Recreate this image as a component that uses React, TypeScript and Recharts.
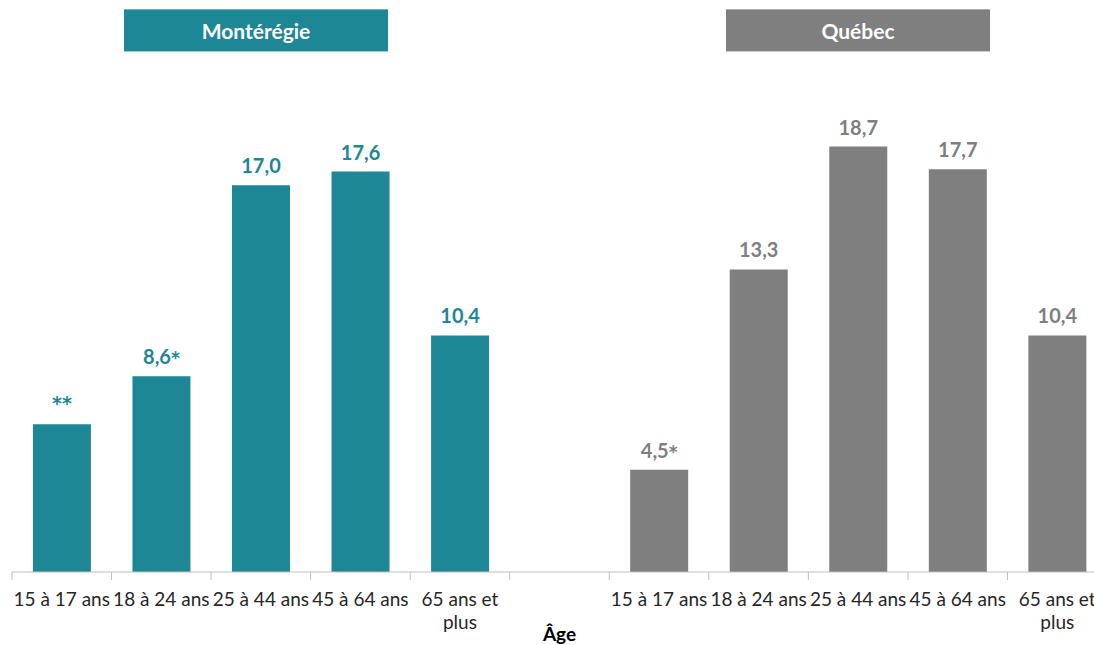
import { BarChart, Bar, XAxis, YAxis, LabelList } from "recharts"

const ageGroups = ["15 à 17 ans", "18 à 24 ans", "25 à 44 ans", "45 à 64 ans", "65 ans et\nplus"]

const monteregieValues = [6.5, 8.6, 17.0, 17.6, 10.4]
const monteregieLabels = ["**", "8,6*", "17,0", "17,6", "10,4"]

const quebecValues = [4.5, 13.3, 18.7, 17.7, 10.4]
const quebecLabels = ["4,5*", "13,3", "18,7", "17,7", "10,4"]

const TEAL = "#1d8796"
const GREY = "#7f7f7f"
const FONT = "Lato, 'Open Sans', sans-serif"

type Row = {
  key: string
  label: string
  monteregie: number | null
  monteregieLabel: string
  quebec: number | null
  quebecLabel: string
}

const chartData: Row[] = [
  ...ageGroups.map((label, i) => ({
    key: "m" + i,
    label,
    monteregie: monteregieValues[i],
    monteregieLabel: monteregieLabels[i],
    quebec: null,
    quebecLabel: ""
  })),
  { key: "gap", label: "", monteregie: null, monteregieLabel: "", quebec: null, quebecLabel: "" },
  ...ageGroups.map((label, i) => ({
    key: "q" + i,
    label,
    monteregie: null,
    monteregieLabel: "",
    quebec: quebecValues[i],
    quebecLabel: quebecLabels[i]
  }))
]

const TICK_SIZE = 8

function AgeTick(props: any) {
  const { x, y, payload, index, visibleTicksCount } = props
  const half = payload.offset ?? 0
  const axisY = y - TICK_SIZE
  const row = chartData[index]
  const lines = row ? row.label.split("\n") : []
  const isLast = index === visibleTicksCount - 1

  return (
    <g>
      <line x1={x - half} x2={x - half} y1={axisY} y2={axisY + TICK_SIZE} stroke="#bfbfbf" />
      {isLast && (
        <line x1={x + half} x2={x + half} y1={axisY} y2={axisY + TICK_SIZE} stroke="#bfbfbf" />
      )}
      <text
        x={x}
        y={axisY + 34}
        textAnchor="middle"
        fill="#262626"
        fontSize={19}
        fontFamily={FONT}
      >
        {lines.map((line, i) => (
          <tspan key={i} x={x} dy={i === 0 ? 0 : 23}>
            {line}
          </tspan>
        ))}
      </text>
    </g>
  )
}

// value label: digits in Lato, asterisks in a font with a bigger star
function makeValueLabel(color: string) {
  return (props: any) => {
    const { x, y, width, value } = props
    if (!value) return null
    const text = String(value)
    const num = text.replace(/\*/g, "")
    const stars = text.slice(num.length)
    return (
      <text
        x={x + width / 2}
        y={y - 12}
        textAnchor="middle"
        fill={color}
        fontSize={20}
        fontWeight={700}
        fontFamily={FONT}
      >
        {num && <tspan>{num}</tspan>}
        {stars && (
          <tspan fontFamily="'DejaVu Sans', sans-serif" fontSize={num ? 17 : 19} dy={num ? 0 : -2}>
            {stars}
          </tspan>
        )}
      </text>
    )
  }
}

function Header({ text, color, left }: { text: string; color: string; left: number }) {
  return (
    <div
      style={{
        position: "absolute",
        left,
        top: 9,
        width: 264,
        height: 43,
        background: color,
        color: "#fff",
        fontFamily: FONT,
        fontWeight: 700,
        fontSize: 21,
        display: "flex",
        alignItems: "center",
        justifyContent: "center",
        boxSizing: "border-box",
        borderTop: "1px solid rgba(255,255,255,0.35)",
        borderBottom: "1px solid rgba(255,255,255,0.6)"
      }}
    >
      {text}
    </div>
  )
}

export default function App() {
  return (
    <div
      style={{
        position: "absolute",
        left: 0,
        top: 0,
        width: 1094,
        height: 645,
        overflow: "hidden",
        background: "#fff"
      }}
    >
      <Header text="Montérégie" color={TEAL} left={124} />
      <Header text="Québec" color={GREY} left={726} />

      <BarChart
        width={1120}
        height={645}
        data={chartData}
        margin={{ top: 117, right: 13, bottom: 13, left: 12 }}
        barCategoryGap="21%"
      >
        <XAxis
          dataKey="key"
          interval={0}
          height={60}
          tickSize={TICK_SIZE}
          tickMargin={0}
          tickLine={false}
          axisLine={{ stroke: "#bfbfbf" }}
          tick={<AgeTick />}
          label={{
            value: "Âge",
            position: "bottom",
            offset: -4,
            fill: "#000",
            fontSize: 19,
            fontWeight: 700,
            fontFamily: FONT
          }}
        />
        <YAxis hide domain={[0, 20]} />

        <Bar dataKey="monteregie" stackId="a" fill={TEAL} isAnimationActive={false}>
          <LabelList dataKey="monteregieLabel" content={makeValueLabel(TEAL)} />
        </Bar>
        <Bar dataKey="quebec" stackId="a" fill={GREY} isAnimationActive={false}>
          <LabelList dataKey="quebecLabel" content={makeValueLabel(GREY)} />
        </Bar>
      </BarChart>
    </div>
  )
}
